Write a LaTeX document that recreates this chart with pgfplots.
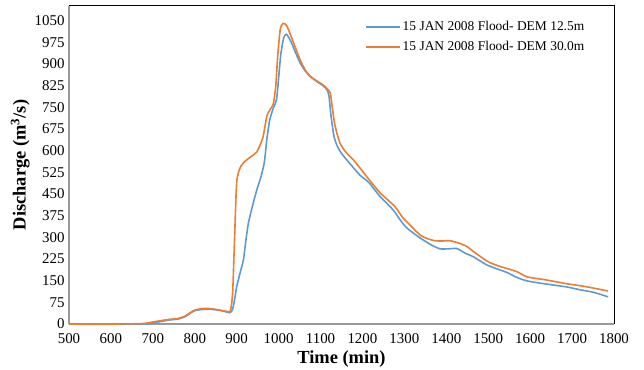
\documentclass[border=0pt]{standalone}
\usepackage{pgfplots}
\pgfplotsset{compat=1.18}
\usepackage{fontspec}
\setmainfont{Liberation Serif}
\definecolor{cblue}{HTML}{5B9BD5}
\definecolor{corange}{HTML}{ED7D31}
\pgfplotstableread{
x y
500 0
600 0
650 0
680 0.5
700 3
720 9
740 14
760 17
775 24
790 38
800 46
815 50
830 51
845 50
860 47
875 42
884 39
890 50
895 85
900 129
908 176
916 222
922 290
928 350
938 410
948 464
958 510
966 560
972 640
979 707
987 745
995 776
1000 850
1005 930
1012 990
1019 1002
1030 975
1040 940
1051 904
1063 876
1075 857
1090 840
1105 825
1115 811
1120 790
1125 720
1132 650
1140 615
1150 590
1170 555
1194 515
1215 490
1242 441
1273 395
1290 360
1306 332
1337 298
1365 273
1385 260
1405 260
1425 261
1445 245
1464 233
1497 204
1528 187
1545 178
1570 160
1593 149
1630 140
1688 128
1720 118
1750 110
1786 94
}\blue
\pgfplotstableread{
x y
500 0
600 0
650 0.5
680 2
700 7
720 12
740 16
760 19
775 26
790 40
800 48
815 53
830 54
845 52
860 48
875 44
884 43
888 70
891 129
895 300
900 490
908 540
916 557
924 568
940 585
948 595
956 620
963 648
972 720
979 740
987 760
993 820
998 930
1004 1020
1011 1040
1020 1030
1035 975
1051 915
1063 880
1075 857
1090 842
1105 828
1115 815
1123 800
1128 750
1134 690
1146 627
1160 595
1178 568
1194 540
1210 510
1242 454
1277 407
1295 370
1313 343
1340 305
1369 289
1390 287
1409 288
1430 280
1449 268
1470 245
1500 215
1528 199
1545 192
1570 180
1593 163
1640 152
1688 139
1730 130
1786 114
}\orange
\begin{document}
\begin{tikzpicture}
\begin{axis}[name=ax,
  scale only axis, width=545bp, height=318bp,
  xmin=500, xmax=1800, ymin=0, ymax=1100,
  xtick={500,600,...,1800}, ytick={0,75,...,1050},
  major tick length=0pt,
  axis x line*=bottom, axis y line*=left,
  axis line style={draw=gray!80, line width=1.2pt},
  /pgf/number format/assume math mode=true,
  /pgf/number format/set thousands separator={},
  tick label style={font=\fontsize{15}{17}\selectfont},
  xticklabel style={yshift=-6bp},
  yticklabel style={xshift=-1pt},
  xlabel={\textbf{Time (min)}}, ylabel={\textbf{Discharge (m\textsuperscript{3}/s)}},
  label style={font=\fontsize{18.5}{20}\selectfont},
  xlabel style={yshift=0pt},
  ylabel style={yshift=-2pt},
  legend style={draw=none, fill=none, at={(rel axis cs:0.955,0.965)}, anchor=north east,
    font=\fontsize{13.5}{16}\selectfont, row sep=5.5pt, cells={anchor=west}},
  legend image code/.code={\draw[#1, line width=1.8pt] (0bp,0bp) -- (34bp,0bp);},
  clip=false,
]
\addplot[cblue, line width=1.6pt, smooth, tension=0.4] table {\blue};
\addlegendentry{15 JAN 2008 Flood- DEM 12.5m}
\addplot[corange, line width=1.6pt, smooth, tension=0.4] table {\orange};
\addlegendentry{15 JAN 2008 Flood- DEM 30.0m}
\draw[black, line width=1pt] (rel axis cs:0,1) -- (rel axis cs:1,1) -- (rel axis cs:1,0);
\end{axis}
\pgfresetboundingbox
\path[use as bounding box] (ax.south west) ++(-69bp,-46bp) rectangle ([xshift=30bp,yshift=6bp]ax.north east);
\end{tikzpicture}
\end{document}
